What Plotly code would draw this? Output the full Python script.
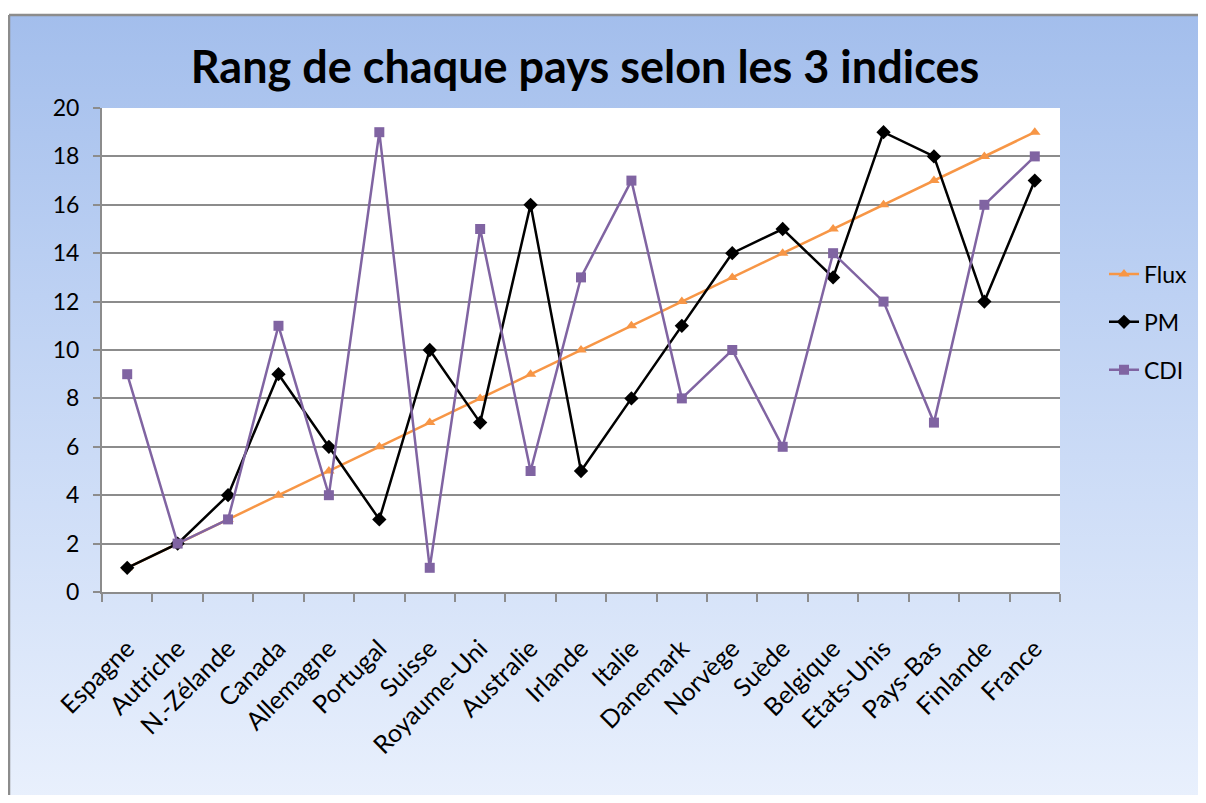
import base64
import plotly.graph_objects as go

countries = ["Espagne", "Autriche", "N.-Zélande", "Canada", "Allemagne", "Portugal",
             "Suisse", "Royaume-Uni", "Australie", "Irlande", "Italie", "Danemark",
             "Norvège", "Suède", "Belgique", "Etats-Unis", "Pays-Bas", "Finlande", "France"]
flux = [1, 2, 3, 4, 5, 6, 7, 8, 9, 10, 11, 12, 13, 14, 15, 16, 17, 18, 19]
pm = [1, 2, 4, 9, 6, 3, 10, 7, 16, 5, 8, 11, 14, 15, 13, 19, 18, 12, 17]
cdi = [9, 2, 3, 11, 4, 19, 1, 15, 5, 13, 17, 8, 10, 6, 14, 12, 7, 16, 18]

# page body has an 8px margin; work in figure pixels = reference pixels - 8
OFF = 8
W, H = 1206 - 2 * OFF, 803 - 2 * OFF
L, R, T, B = 102 - OFF, 1060 - OFF, 108 - OFF, 592 - OFF
pw, ph = R - L, B - T

FONT = "Lato, 'Open Sans', sans-serif"

fig = go.Figure()
fig.add_trace(go.Scatter(x=countries, y=flux, name="Flux", mode="lines+markers",
                         line=dict(color="#F79646", width=2.5),
                         marker=dict(symbol="triangle-up", size=10, color="#F79646")))
fig.add_trace(go.Scatter(x=countries, y=pm, name="PM", mode="lines+markers",
                         line=dict(color="#000000", width=2.5),
                         marker=dict(symbol="diamond", size=11, color="#000000")))
fig.add_trace(go.Scatter(x=countries, y=cdi, name="CDI", mode="lines+markers",
                         line=dict(color="#8064A2", width=2.5),
                         marker=dict(symbol="square", size=10, color="#8064A2")))

svg = ('<svg xmlns="http://www.w3.org/2000/svg" width="100" height="100" preserveAspectRatio="none">'
       '<defs><linearGradient id="g" x1="0" y1="0" x2="0" y2="1">'
       '<stop offset="0" stop-color="#A3BEEC"/><stop offset="0.35" stop-color="#BDD1F3"/>'
       '<stop offset="1" stop-color="#EAF1FD"/></linearGradient></defs>'
       '<rect width="100" height="100" fill="url(#g)"/></svg>')
src = "data:image/svg+xml;base64," + base64.b64encode(svg.encode()).decode()


def px_x(x):
    return (x - L) / pw


def px_y(y):
    return (B - y) / ph


x0, y0 = px_x(1), px_y(15 - OFF)
x1, y1 = px_x(W + 20), px_y(H + 20)
fig.add_layout_image(dict(source=src, xref="paper", yref="paper", x=x0, y=y0,
                          sizex=x1 - x0, sizey=y0 - y1, sizing="stretch",
                          xanchor="left", yanchor="top", layer="below"))
# frame: left and top edges (right/bottom lie outside the picture)
fig.add_shape(type="line", xref="paper", yref="paper", x0=x0, y0=y0, x1=x0, y1=y1,
              line=dict(color="#8C8C8C", width=2.5), layer="below")
fig.add_shape(type="line", xref="paper", yref="paper", x0=x0, y0=y0, x1=x1, y1=y0,
              line=dict(color="#8C8C8C", width=2.5), layer="below")
# white plot area over the gradient
fig.add_shape(type="rect", xref="paper", yref="paper", x0=0, y0=0, x1=1, y1=1,
              line=dict(width=0), fillcolor="white", layer="below")

fig.update_layout(
    width=W, height=H,
    margin=dict(l=L, r=W - R, t=T, b=H - B, autoexpand=False),
    paper_bgcolor="white", plot_bgcolor="white",
    font=dict(family=FONT, color="#000000", size=22),
    title=dict(text="<b>Rang de chaque pays selon les 3 indices</b>",
               x=(585 - OFF) / W, xanchor="center", y=1 - (67 - OFF) / H, yanchor="middle",
               font=dict(family=FONT, size=45, color="#000000")),
    showlegend=True,
    legend=dict(x=px_x(1104 - OFF), y=px_y(322 - OFF), xanchor="left", yanchor="middle",
                bgcolor="rgba(0,0,0,0)", font=dict(size=23, family=FONT),
                tracegroupgap=15),
)
for i, tr in enumerate(fig.data):
    tr.legendgroup = "g%d" % i

fig.update_xaxes(range=[-0.5, len(countries) - 0.5], autorange=False,
                 showgrid=False, showline=True, linecolor="#8C8C8C", linewidth=2,
                 ticks="outside", tickson="boundaries", ticklen=8, tickcolor="#8C8C8C",
                 tickwidth=2, tickangle=-45, tickfont=dict(size=25, family=FONT),
                 ticklabelstandoff=30, mirror=False, zeroline=False, automargin=False)
fig.update_yaxes(range=[0, 20], dtick=2, showgrid=True, gridcolor="#8C8C8C", gridwidth=2,
                 showline=True, linecolor="#8C8C8C", linewidth=2, ticks="outside",
                 ticklen=7, tickcolor="#8C8C8C", tickwidth=2, zeroline=False, automargin=False,
                 ticklabelstandoff=9, tickfont=dict(size=23, family=FONT))

fig.write_html("out.html")
